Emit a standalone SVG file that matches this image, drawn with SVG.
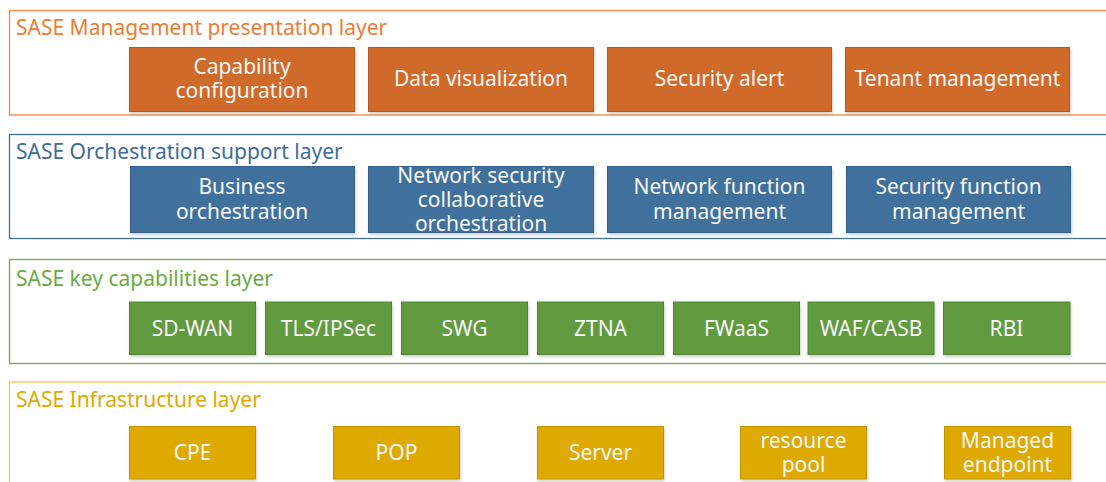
<svg xmlns="http://www.w3.org/2000/svg" width="1106" height="482" viewBox="0 0 1106 482">
  <defs>
    <filter id="shadow" x="-5%" y="-10%" width="110%" height="130%">
      <feDropShadow dx="1" dy="2" stdDeviation="1.5" flood-color="#000" flood-opacity="0.18"/>
    </filter>
  </defs>
  <style>
    text { font-family: "Noto Sans", "Open Sans", sans-serif; }
    .frame { fill: #fff; stroke-width: 1.3; }
    .ttl { font-size: 21px; }
    .box { filter: url(#shadow); stroke-width: 1; }
    .lbl { font-size: 21px; fill: #f7f7f7; text-anchor: middle; }
    .mgmt .frame { stroke: #f4883b; }
    .mgmt .ttl { fill: #ed7d31; }
    .mgmt .box { fill: #d06b2c; stroke: #b65a20; }
    .orch .frame { stroke: #41719c; }
    .orch .ttl { fill: #3e6c98; }
    .orch .box { fill: #41719c; stroke: #34618a; }
    .cap .frame { stroke: #70ad47; }
    .cap .ttl { fill: #6aaa43; }
    .cap .box { fill: #629a3f; stroke: #508534; }
    .infra .frame { stroke: #f1c24f; }
    .infra .ttl { fill: #dea900; }
    .infra .box { fill: #dea900; stroke: #c49300; }
  </style>

  <!-- Management presentation layer -->
  <g id="layer-management" class="mgmt">
    <rect class="frame" x="9.5" y="10.5" width="1110" height="104.5"/>
    <text class="ttl" x="16" y="35">SASE Management presentation layer</text>
    <g id="capability-configuration">
      <rect class="box" x="129.5" y="47.5" width="225" height="64"/>
      <text class="lbl" x="242" y="74">Capability<tspan x="242" dy="24">configuration</tspan></text>
    </g>
    <g id="data-visualization">
      <rect class="box" x="368.5" y="47.5" width="225" height="64"/>
      <text class="lbl" x="481" y="86">Data visualization</text>
    </g>
    <g id="security-alert">
      <rect class="box" x="607.5" y="47.5" width="224" height="64"/>
      <text class="lbl" x="719.5" y="86">Security alert</text>
    </g>
    <g id="tenant-management">
      <rect class="box" x="845.5" y="47.5" width="224" height="64"/>
      <text class="lbl" x="957.5" y="86">Tenant management</text>
    </g>
  </g>

  <!-- Orchestration support layer -->
  <g id="layer-orchestration" class="orch">
    <rect class="frame" x="9.5" y="134.5" width="1110" height="104"/>
    <text class="ttl" x="16" y="159">SASE Orchestration support layer</text>
    <g id="business-orchestration">
      <rect class="box" x="130.5" y="166.5" width="224" height="66"/>
      <text class="lbl" x="242" y="194">Business<tspan x="242" dy="25">orchestration</tspan></text>
    </g>
    <g id="network-security-collaborative-orchestration">
      <rect class="box" x="368.5" y="166.5" width="225" height="66"/>
      <text class="lbl" x="481" y="183">Network security<tspan x="481" dy="24">collaborative</tspan><tspan x="481" dy="24">orchestration</tspan></text>
    </g>
    <g id="network-function-management">
      <rect class="box" x="607.5" y="166.5" width="224" height="66"/>
      <text class="lbl" x="719.5" y="194">Network function<tspan x="719.5" dy="25">management</tspan></text>
    </g>
    <g id="security-function-management">
      <rect class="box" x="846.5" y="166.5" width="224" height="66"/>
      <text class="lbl" x="958.5" y="194">Security function<tspan x="958.5" dy="25">management</tspan></text>
    </g>
  </g>

  <!-- Key capabilities layer -->
  <g id="layer-capabilities" class="cap">
    <rect class="frame" x="9.5" y="259.5" width="1110" height="104"/>
    <text class="ttl" x="16" y="286">SASE key capabilities layer</text>
    <g id="sd-wan">
      <rect class="box" x="129.5" y="302" width="126" height="52.5"/>
      <text class="lbl" x="192.5" y="336">SD-WAN</text>
    </g>
    <g id="tls-ipsec">
      <rect class="box" x="265.5" y="302" width="126" height="52.5"/>
      <text class="lbl" x="328.5" y="336">TLS/IPSec</text>
    </g>
    <g id="swg">
      <rect class="box" x="401.5" y="302" width="126" height="52.5"/>
      <text class="lbl" x="464.5" y="336">SWG</text>
    </g>
    <g id="ztna">
      <rect class="box" x="537.5" y="302" width="126" height="52.5"/>
      <text class="lbl" x="600.5" y="336">ZTNA</text>
    </g>
    <g id="fwaas">
      <rect class="box" x="673.5" y="302" width="126" height="52.5"/>
      <text class="lbl" x="736.5" y="336">FWaaS</text>
    </g>
    <g id="waf-casb">
      <rect class="box" x="808" y="302" width="126" height="52.5"/>
      <text class="lbl" x="871" y="336">WAF/CASB</text>
    </g>
    <g id="rbi">
      <rect class="box" x="943.5" y="302" width="126.5" height="52.5"/>
      <text class="lbl" x="1006.5" y="336">RBI</text>
    </g>
  </g>

  <!-- Infrastructure layer -->
  <g id="layer-infrastructure" class="infra">
    <rect class="frame" x="9.5" y="382" width="1110" height="110"/>
    <text class="ttl" x="16" y="407">SASE Infrastructure layer</text>
    <g id="cpe">
      <rect class="box" x="129.5" y="426.5" width="126" height="52.5"/>
      <text class="lbl" x="192.5" y="460">CPE</text>
    </g>
    <g id="pop">
      <rect class="box" x="333.5" y="426.5" width="126" height="52.5"/>
      <text class="lbl" x="396.5" y="460">POP</text>
    </g>
    <g id="server">
      <rect class="box" x="537.5" y="426.5" width="126" height="52.5"/>
      <text class="lbl" x="600.5" y="460">Server</text>
    </g>
    <g id="resource-pool">
      <rect class="box" x="740.5" y="426.5" width="126" height="52.5"/>
      <text class="lbl" x="803.5" y="448">resource<tspan x="803.5" dy="24">pool</tspan></text>
    </g>
    <g id="managed-endpoint">
      <rect class="box" x="944.5" y="426.5" width="126" height="52.5"/>
      <text class="lbl" x="1007.5" y="448">Managed<tspan x="1007.5" dy="24">endpoint</tspan></text>
    </g>
  </g>

  <!-- no connectors between the layers -->
  <g id="connectors"/>
</svg>
